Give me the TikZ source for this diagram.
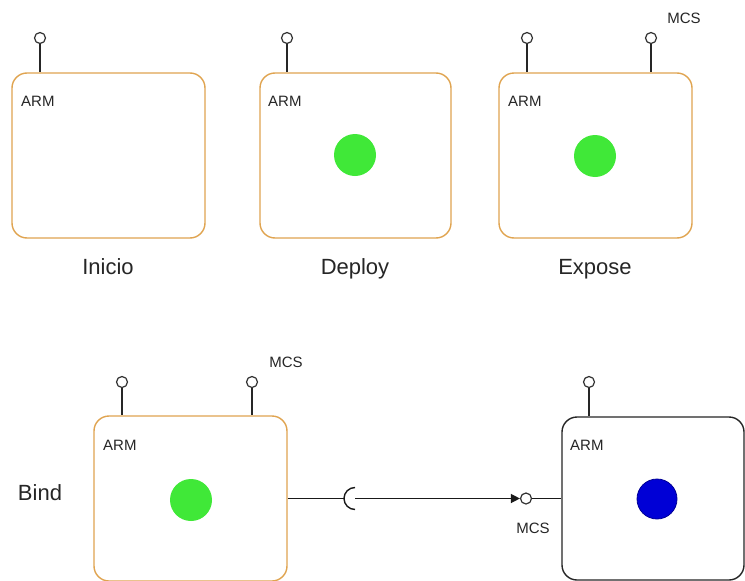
\documentclass[tikz,border=0pt]{standalone}
\usepackage{fontspec}
\setmainfont{Liberation Sans}
\usetikzlibrary{arrows.meta}
\definecolor{armorange}{RGB}{224,164,80}
\definecolor{podgreen}{RGB}{64,232,56}
\definecolor{podblue}{RGB}{0,0,214}
\definecolor{pinstroke}{RGB}{50,50,50}
\tikzset{
  armbox/.style={draw=armorange, line width=1.4pt, rounded corners=15pt, fill=white,
    minimum width=#1, minimum height=165pt, inner sep=0pt},
  armbox/.default=193pt,
  plainbox/.style={draw=black!85, line width=1.4pt, rounded corners=15pt, fill=white,
    minimum width=182pt, minimum height=163pt, inner sep=0pt},
  pin/.style={circle, draw=pinstroke, line width=1.2pt, fill=white, minimum size=11pt, inner sep=0pt},
  stem/.style={draw=black!85, line width=1.4pt},
  pod/.style={circle, fill=podgreen, minimum size=42pt, inner sep=0pt},
  podb/.style={circle, fill=podblue, draw=podblue!70!black, line width=0.8pt, minimum size=40pt, inner sep=0pt},
  small/.style={font=\fontsize{15}{18}\selectfont, text=black!85, inner sep=0pt},
  big/.style={font=\fontsize{22}{26}\selectfont, text=black!85, inner sep=0pt, anchor=base},
  wire/.style={draw=black!90, line width=1.4pt},
}
\begin{document}
\begin{tikzpicture}[x=1pt, y=-1pt]
\useasboundingbox (0,0) rectangle (745,581);
\clip (0,0) rectangle (745,581);
\fill[white] (0,0) rectangle (745,581);

% --- top row: Inicio ---
\node[armbox] (b1) at (108.5,155.5) {};
\node[pin] (p1) at (40,38) {};
\draw[stem] (p1.south) -- (p1.south |- b1.north);
\node[small, anchor=west] (a1) at (21,101) {ARM};
\node[big] (t1) at (108,274) {Inicio};

% --- top row: Deploy ---
\node[armbox=191pt] (b2) at (355.5,155.5) {};
\node[pin] (p2) at (287,38) {};
\draw[stem] (p2.south) -- (p2.south |- b2.north);
\node[small, anchor=west] (a2) at (268,101) {ARM};
\node[pod] (g2) at (355,155) {};
\node[big] (t2) at (355,274) {Deploy};

% --- top row: Expose ---
\node[armbox] (b3) at (595.5,155.5) {};
\node[pin] (p3) at (527,38) {};
\draw[stem] (p3.south) -- (p3.south |- b3.north);
\node[pin] (q3) at (651,38) {};
\draw[stem] (q3.south) -- (q3.south |- b3.north);
\node[small] (m3) at (684,18) {MCS};
\node[small, anchor=west] (a3) at (508,101) {ARM};
\node[pod] (g3) at (595,156) {};
\node[big] (t3) at (595,274) {Expose};

% --- bottom row: Bind ---
\node[big] (t4) at (40,500) {Bind};
\node[armbox] (b4) at (190.5,498.5) {};
\node[pin] (p4) at (122,382) {};
\draw[stem] (p4.south) -- (p4.south |- b4.north);
\node[pin] (q4) at (252,382) {};
\draw[stem] (q4.south) -- (q4.south |- b4.north);
\node[small] (m4) at (286,362) {MCS};
\node[small, anchor=west] (a4) at (103,445) {ARM};
\node[pod] (g4) at (191,500) {};

\node[plainbox] (b5) at (653,498.5) {};
\node[pin] (p5) at (589,382) {};
\draw[stem] (p5.south) -- (p5.south |- b5.north);
\node[small, anchor=west] (a5) at (570,445) {ARM};
\node[podb] (g5) at (657,499) {};

% --- required / provided interface ---
\coordinate (sock) at (355,498.5);
\coordinate (sockL) at (344,498.5);
\node[pin] (port) at (526,498.5) {};
\node[small] (m5) at (533,528) {MCS};
\draw[wire] (b4.east) -- (sockL);
\draw[wire] (sock) ++(0,-11) arc[start angle=90, end angle=270, radius=11pt];
\draw[wire, -{Triangle[length=9pt, width=9pt]}] (sock) -- (port.west);
\draw[wire] (port.east) -- (b5.west);
\end{tikzpicture}
\end{document}
